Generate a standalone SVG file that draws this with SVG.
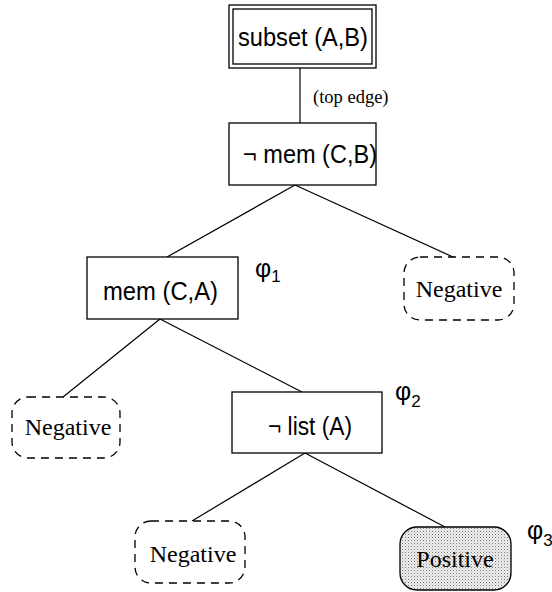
<svg xmlns="http://www.w3.org/2000/svg" width="552" height="592" viewBox="0 0 552 592">
<style>
.box{fill:#fff;stroke:#000;stroke-width:1.3}
.dash{fill:#fff;stroke:#000;stroke-width:1.3;stroke-dasharray:8 6}
.sans{font-family:"Liberation Sans",Arial,sans-serif;font-size:25px;fill:#000}
.serif{font-family:"Liberation Serif","Times New Roman",serif;font-size:24px;fill:#000}
.phi{font-family:"Liberation Sans",Arial,sans-serif;font-size:25px;fill:#000}
.sub{font-size:17px}
.edge{stroke:#000;stroke-width:1.2;fill:none}
</style>
<defs>
<pattern id="dots" width="3" height="3" patternUnits="userSpaceOnUse">
<rect width="3" height="3" fill="#f0f0f0"/>
<rect width="1" height="1" fill="#777"/>
<rect x="1.5" y="1.5" width="1" height="1" fill="#aaa"/>
</pattern>
</defs>
<rect width="552" height="592" fill="#fff"/>
<g id="connectors">
<line class="edge" x1="300" y1="68" x2="300" y2="123"/>
<line class="edge" x1="295" y1="185" x2="167" y2="257"/>
<line class="edge" x1="295" y1="185" x2="453" y2="257"/>
<line class="edge" x1="160" y1="319" x2="63" y2="397"/>
<line class="edge" x1="160" y1="319" x2="302" y2="392"/>
<line class="edge" x1="305" y1="453" x2="192" y2="521"/>
<line class="edge" x1="305" y1="453" x2="445" y2="527"/>
<text x="313" y="103" class="serif" style="font-size:18.5px">(top edge)</text>
</g>
<g id="n-subset">
<rect class="box" x="229" y="5" width="147" height="63"/>
<rect class="box" x="233" y="9" width="139" height="55"/>
<text x="238" y="46" class="sans" textLength="130" lengthAdjust="spacingAndGlyphs">subset (A,B)</text>
</g>
<g id="n-notmemCB">
<rect class="box" x="229" y="123" width="147" height="62"/>
<text x="243" y="163" class="sans" textLength="134" lengthAdjust="spacingAndGlyphs">¬ mem (C,B)</text>
</g>
<g id="n-memCA">
<rect class="box" x="87" y="257" width="151" height="62"/>
<text x="103" y="300" class="sans" textLength="115" lengthAdjust="spacingAndGlyphs">mem (C,A)</text>
<text x="255" y="277" class="phi">φ<tspan class="sub" dy="5">1</tspan></text>
</g>
<g id="n-neg1">
<rect class="dash" x="404" y="257" width="110" height="63" rx="16" ry="16"/>
<text x="459" y="297" class="serif" text-anchor="middle">Negative</text>
</g>
<g id="n-neg2">
<rect class="dash" x="12" y="397" width="108" height="61" rx="16" ry="16"/>
<text x="68" y="435" class="serif" text-anchor="middle">Negative</text>
</g>
<g id="n-notlist">
<rect class="box" x="232" y="392" width="150" height="61"/>
<text x="268" y="435" class="sans" textLength="84" lengthAdjust="spacingAndGlyphs">¬ list (A)</text>
<text x="395" y="400" class="phi">φ<tspan class="sub" dy="7">2</tspan></text>
</g>
<g id="n-neg3">
<rect class="dash" x="135" y="521" width="110" height="62" rx="16" ry="16"/>
<text x="193" y="562" class="serif" text-anchor="middle">Negative</text>
</g>
<g id="n-pos">
<rect x="400" y="527" width="111" height="63" rx="17" ry="17" fill="url(#dots)" stroke="#000" stroke-width="1.3"/>
<text x="455" y="567" class="serif" text-anchor="middle">Positive</text>
<text x="527" y="539" class="phi">φ<tspan class="sub" dy="7">3</tspan></text>
</g>
</svg>
